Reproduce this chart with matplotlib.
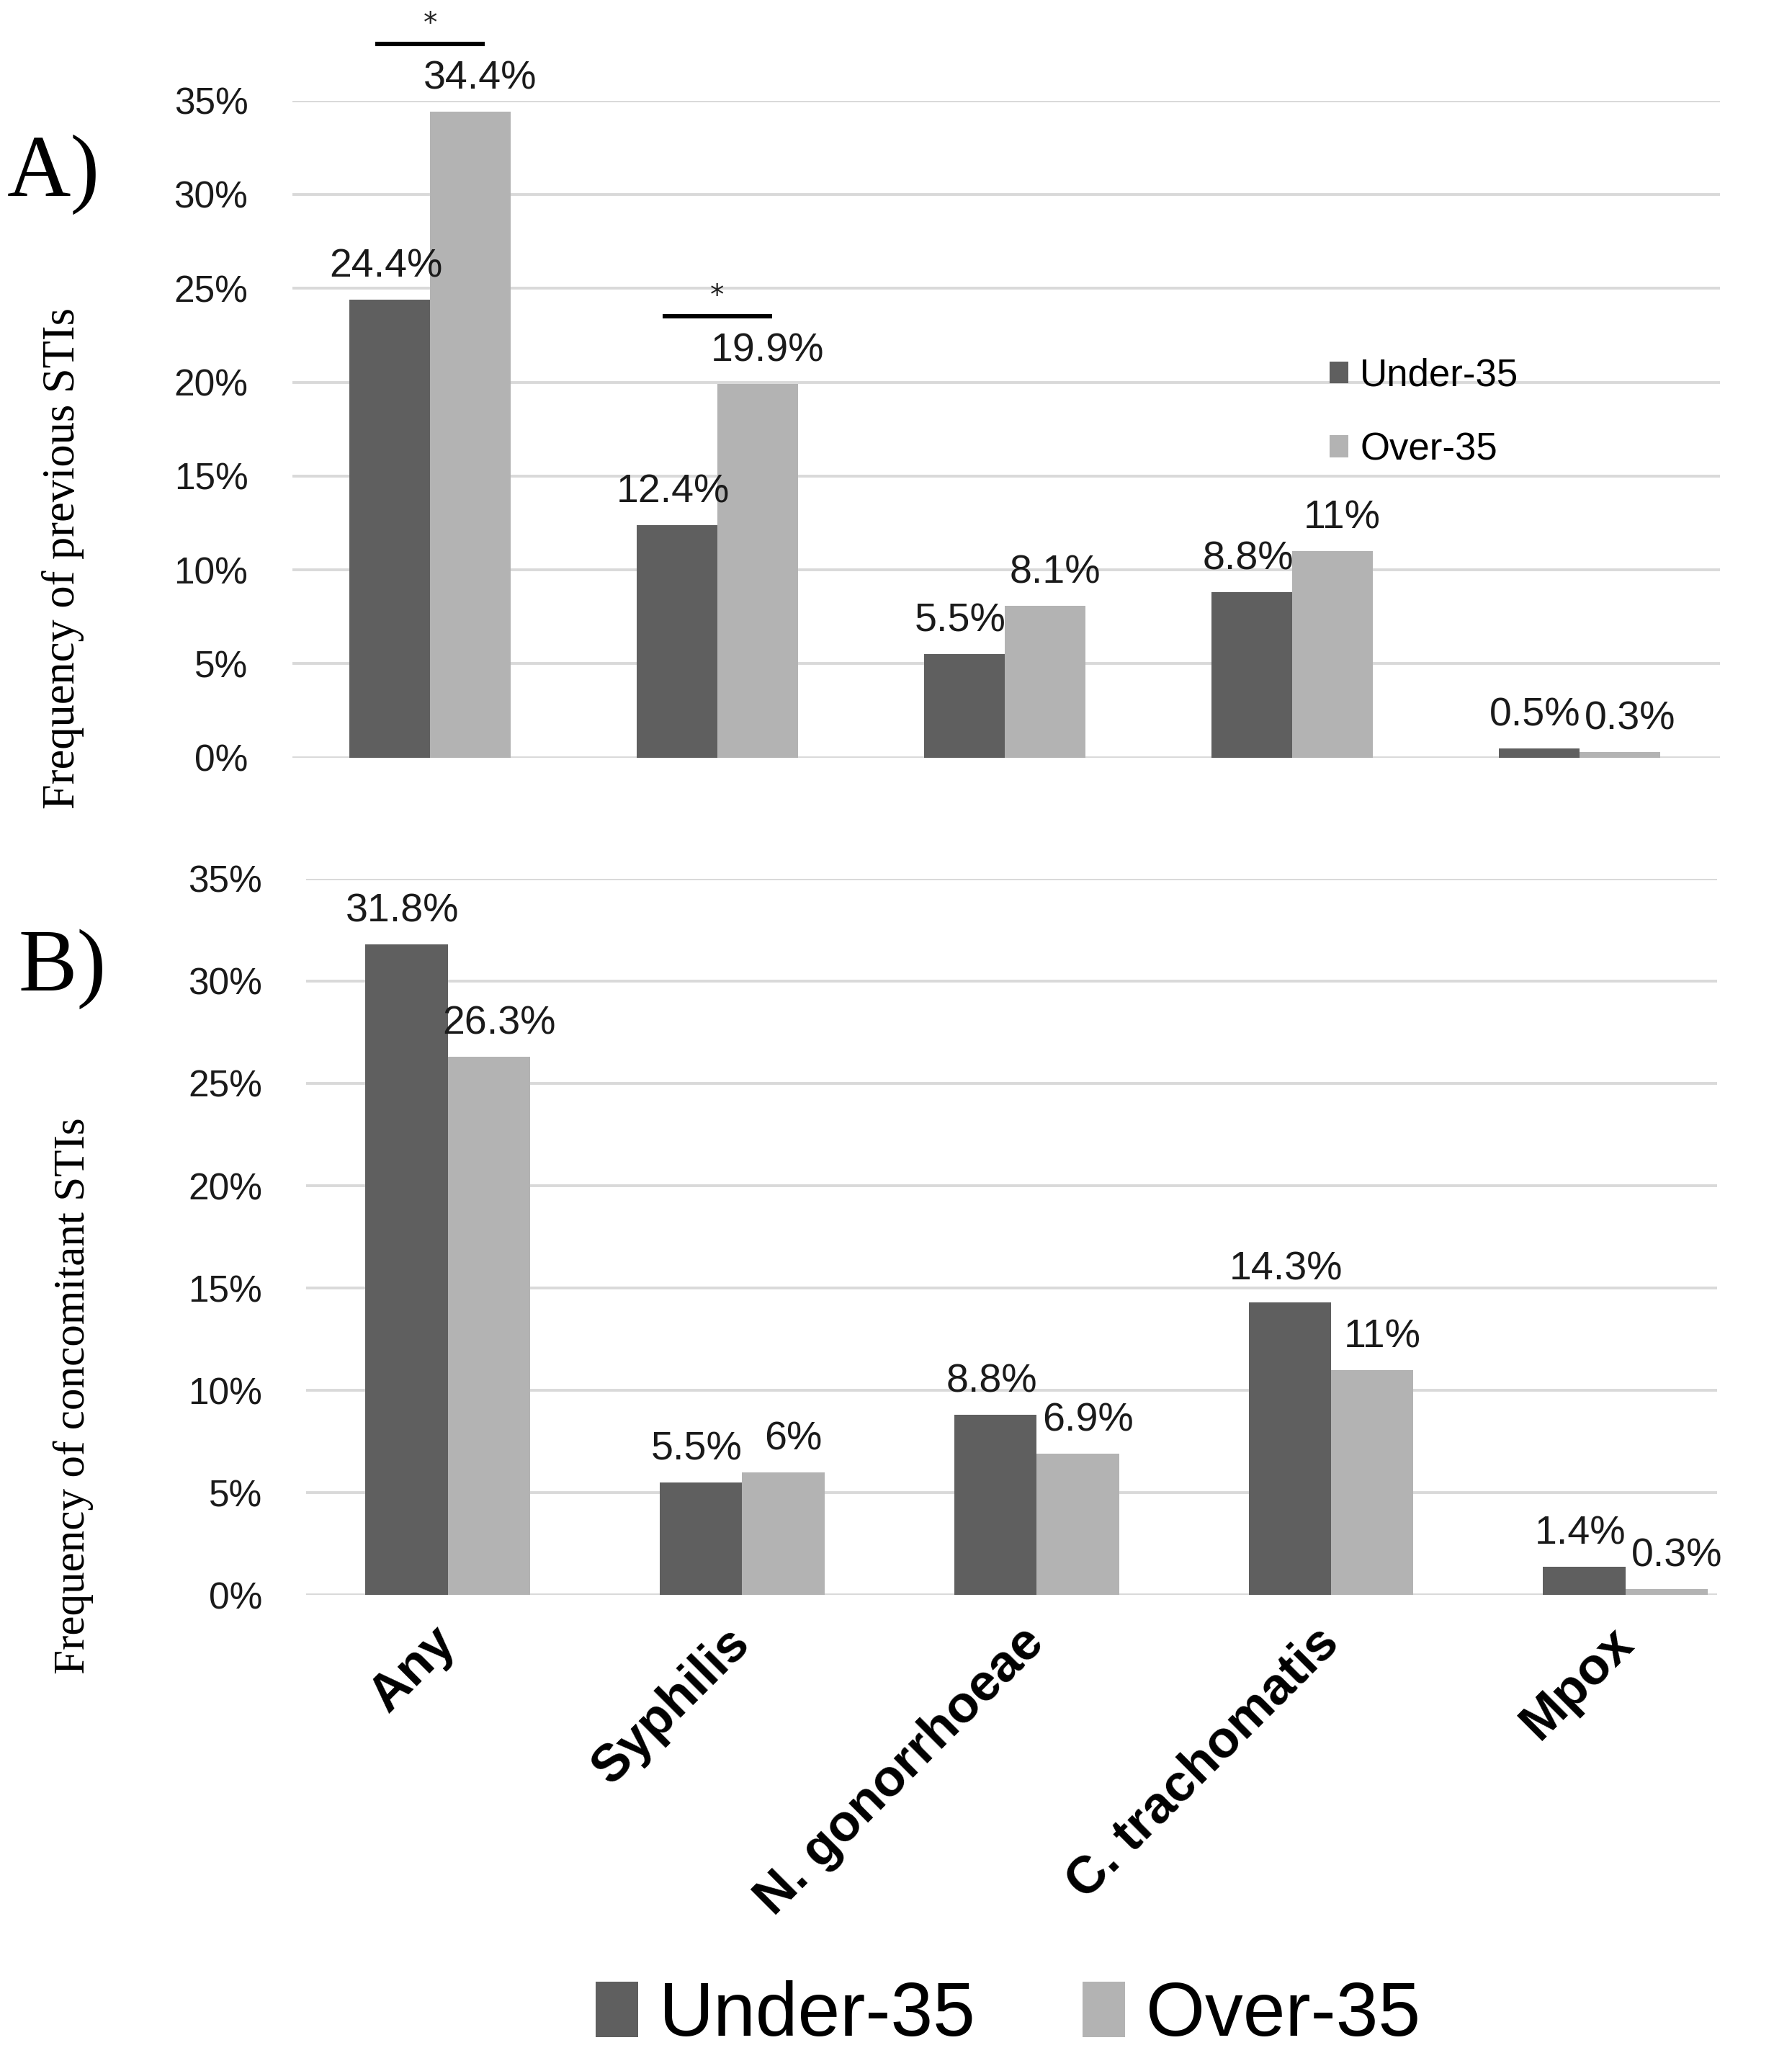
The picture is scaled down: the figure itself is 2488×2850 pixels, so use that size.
import matplotlib
matplotlib.use("Agg")
import matplotlib.pyplot as plt
import numpy as np

# Data
categories = ["Any", "Syphilis", "N. gonorrhoeae", "C. trachomatis", "Mpox"]
series_names = ["Under-35", "Over-35"]
previous_under = [24.4, 12.4, 5.5, 8.8, 0.5]
previous_over = [34.4, 19.9, 8.1, 11.0, 0.3]
concomitant_under = [31.8, 5.5, 8.8, 14.3, 1.4]
concomitant_over = [26.3, 6.0, 6.9, 11.0, 0.3]
significant_previous = [0, 1]  # categories with a significance bar in panel A
y_ticks = [0, 5, 10, 15, 20, 25, 30, 35]

darkColor = "#5f5f5f"
lightColor = "#b3b3b3"
gridColor = "#d9d9d9"
sansFont = "Liberation Sans"
serifFont = "Liberation Serif"

fig = plt.figure(figsize=(12.44, 14.25), dpi=200)
axA = fig.add_axes([0.163, 0.631, 0.797, 0.320])
axB = fig.add_axes([0.171, 0.223, 0.787, 0.349])

x = np.arange(len(categories))
barWidth = 0.28


def draw_panel(ax, under, over, xmax):
    b1 = ax.bar(x - barWidth / 2, under, barWidth, color=darkColor, label=series_names[0], zorder=3)
    b2 = ax.bar(x + barWidth / 2, over, barWidth, color=lightColor, label=series_names[1], zorder=3)
    # value labels, nudged apart a little like the original
    for bars, vals, dx in ((b1, under, -2), (b2, over, 5)):
        for rect, v in zip(bars, vals):
            ax.annotate(f"{v:g}%", (rect.get_x() + rect.get_width() / 2, rect.get_height()),
                        xytext=(dx, 7), textcoords="offset points", ha="center", va="bottom",
                        fontsize=20, family=sansFont, color="#1a1a1a", annotation_clip=False)
    ax.set_ylim(0, 35)
    ax.set_xlim(-0.48, xmax)
    ax.set_yticks(y_ticks)
    ax.set_yticklabels([f"{t}%" for t in y_ticks], fontsize=18.5, family=sansFont, color="#1a1a1a")
    ax.tick_params(axis="y", length=0, pad=22)
    ax.tick_params(axis="x", length=0)
    for s in ax.spines.values():
        s.set_visible(False)
    ax.yaxis.grid(True, color=gridColor, linewidth=1.4)
    ax.set_axisbelow(True)
    return b1, b2


barsA = draw_panel(axA, previous_under, previous_over, 4.49)
axA.set_xticks([])

# significance bars in panel A
for idx in significant_previous:
    top = max(previous_under[idx], previous_over[idx]) + 3.6
    axA.plot([idx - 0.19, idx + 0.19], [top, top], color="black", lw=2.2, clip_on=False,
             solid_capstyle="butt")
    axA.text(idx, top + 0.35, "*", ha="center", va="bottom", fontsize=14, color="#222222")

axA.legend(handles=barsA, labels=series_names, loc="center left",
           bbox_to_anchor=(0.742, 0.799), bbox_transform=fig.transFigure,
           frameon=False, prop={"family": sansFont, "size": 19}, labelspacing=1.0,
           handlelength=0.5, handleheight=0.5, handletextpad=0.3, borderpad=0,
           borderaxespad=0)

barsB = draw_panel(axB, concomitant_under, concomitant_over, 4.31)
axB.set_xticks(x)
axB.set_xticklabels(categories, rotation=45, ha="right", va="center", rotation_mode="anchor",
                    fontsize=26, fontweight="bold", family=sansFont)
axB.tick_params(axis="x", pad=20)

# y-axis titles and panel letters
fig.text(0.035, 0.728, "Frequency of previous STIs", rotation=90, ha="center", va="center",
         fontsize=22.5, family=serifFont)
fig.text(0.041, 0.320, "Frequency of concomitant STIs", rotation=90, ha="center", va="center",
         fontsize=22, family=serifFont)
fig.text(0.03, 0.915, "A)", ha="center", va="center", fontsize=44, family=serifFont)
fig.text(0.035, 0.528, "B)", ha="center", va="center", fontsize=44, family=serifFont)

fig.legend(handles=barsB, labels=series_names, loc="center", bbox_to_anchor=(0.5625, 0.018),
           ncol=2, frameon=False, prop={"family": sansFont, "size": 38},
           handlelength=0.56, handleheight=0.75, handletextpad=0.28, columnspacing=1.4,
           borderpad=0, borderaxespad=0)

fig.savefig("out.png", dpi=200, facecolor="white")
